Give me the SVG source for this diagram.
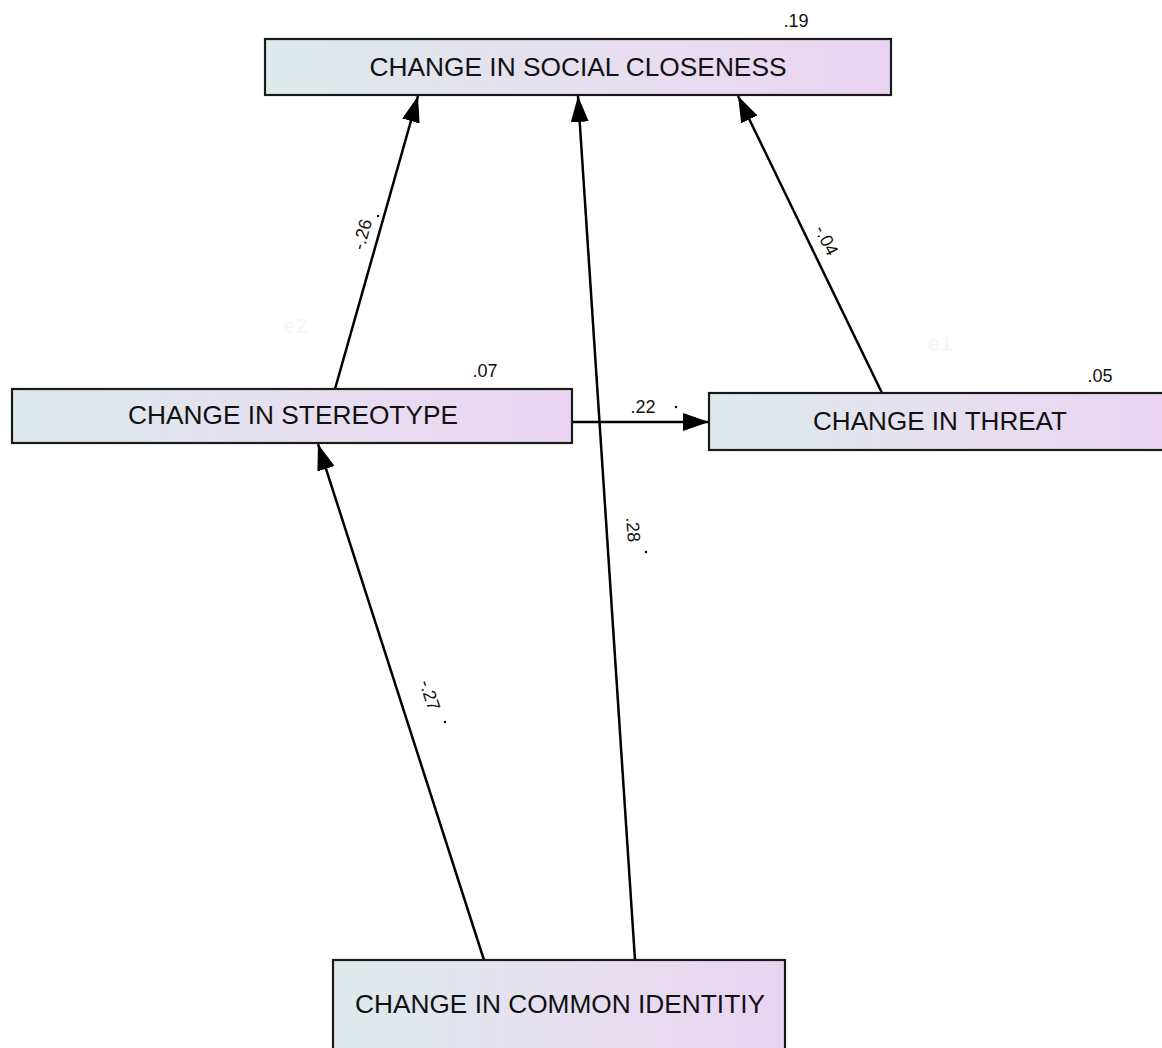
<svg xmlns="http://www.w3.org/2000/svg" width="1162" height="1048" viewBox="0 0 1162 1048">
<defs>
<linearGradient id="g" x1="0" y1="0" x2="1" y2="0">
<stop offset="0" stop-color="#dde9ea"/>
<stop offset="0.5" stop-color="#e6e0f0"/>
<stop offset="1" stop-color="#ead3f2"/>
</linearGradient>
<marker id="ah" viewBox="0 0 26 18" refX="26" refY="9" markerWidth="26" markerHeight="18" markerUnits="userSpaceOnUse" orient="auto">
<path d="M0,0 L26,9 L0,18 Z" fill="#000"/>
</marker>
<style>
.box{fill:url(#g);stroke:#1a1a1a;stroke-width:2.2}
.lbl{font-family:"Liberation Sans",Arial,sans-serif;font-size:25px;fill:#111;text-anchor:middle}
.num{font-family:"Liberation Sans",Arial,sans-serif;font-size:18px;fill:#111;text-anchor:middle}
.dot{fill:#000}
.edge{stroke:#000;stroke-width:2.5;fill:none;marker-end:url(#ah)}
.ghost{font-family:"Liberation Sans",Arial,sans-serif;font-size:22px;fill:#f7f7f7;font-weight:bold}
</style>
</defs>
<rect width="1162" height="1048" fill="#fff"/>
<text class="ghost" x="283" y="333">e2</text>
<text class="ghost" x="928" y="351">e1</text>
<g id="connectors">
<line class="edge" x1="335" y1="389" x2="418" y2="96"/>
<line class="edge" x1="882" y1="393" x2="738" y2="96"/>
<line class="edge" x1="635" y1="960" x2="578" y2="96"/>
<line class="edge" x1="484" y1="960" x2="318" y2="444"/>
<line class="edge" x1="572" y1="422" x2="709" y2="422"/>
<text class="num" transform="translate(368,236) rotate(-74)">-.26</text>
<circle class="dot" cx="378" cy="216" r="1.2"/>
<text class="num" transform="translate(821,243) rotate(64)">-.04</text>
<text class="num" transform="translate(627,530) rotate(86)">.28</text>
<circle class="dot" cx="646" cy="552" r="1.2"/>
<text class="num" transform="translate(424,697) rotate(72)">-.27</text>
<circle class="dot" cx="445" cy="722" r="1.2"/>
<text class="num" x="643" y="413">.22</text>
<circle class="dot" cx="676" cy="407" r="1.2"/>
</g>
<g id="social">
<rect class="box" x="265" y="39" width="626" height="56"/>
<text class="lbl" x="578" y="76" textLength="417" lengthAdjust="spacingAndGlyphs">CHANGE IN SOCIAL CLOSENESS</text>
<text class="num" x="796" y="27">.19</text>
</g>
<g id="stereotype">
<rect class="box" x="12" y="389" width="560" height="54"/>
<text class="lbl" x="293" y="424" textLength="330" lengthAdjust="spacingAndGlyphs">CHANGE IN STEREOTYPE</text>
<text class="num" x="485" y="377">.07</text>
</g>
<g id="threat">
<rect class="box" x="709" y="393" width="460" height="57"/>
<text class="lbl" x="940" y="430" textLength="254" lengthAdjust="spacingAndGlyphs">CHANGE IN THREAT</text>
<text class="num" x="1100" y="382">.05</text>
</g>
<g id="identity">
<rect class="box" x="333" y="960" width="452" height="100"/>
<text class="lbl" x="560" y="1013" textLength="410" lengthAdjust="spacingAndGlyphs">CHANGE IN COMMON IDENTITIY</text>
</g>
</svg>
